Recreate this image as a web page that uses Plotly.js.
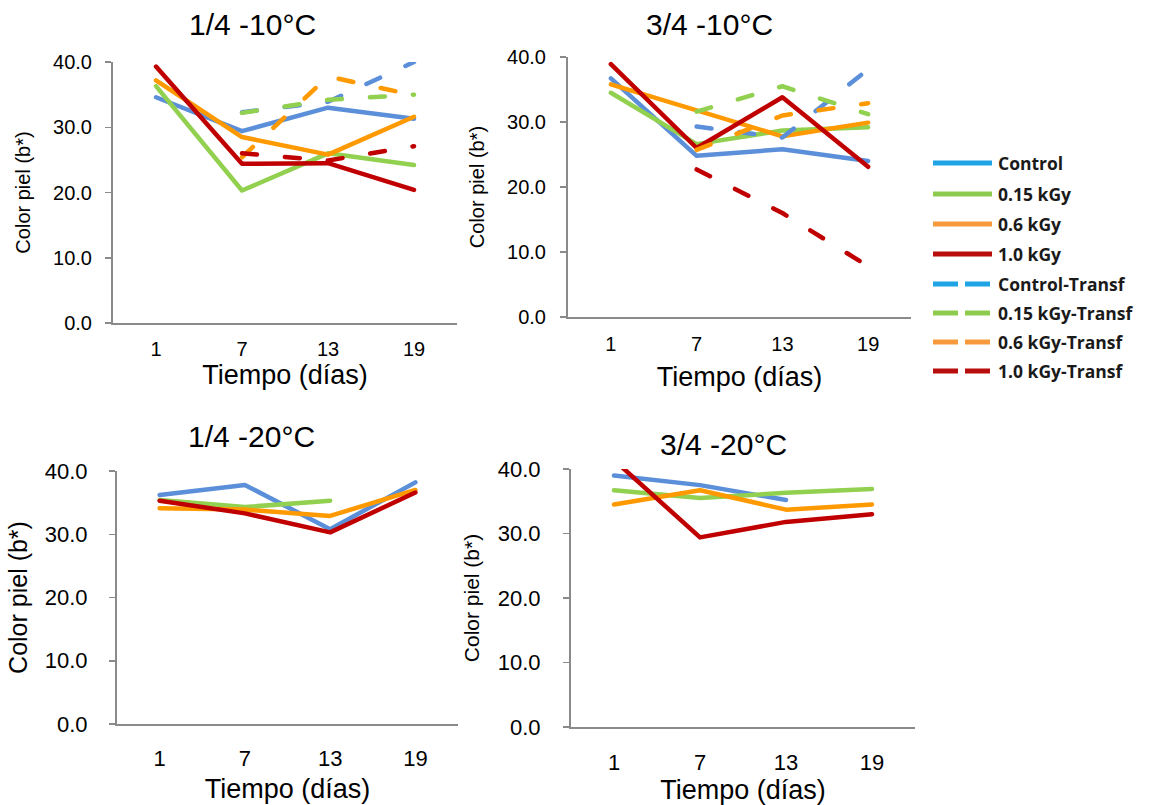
<!DOCTYPE html>
<html><head><meta charset="utf-8">
<script src="https://cdn.plot.ly/plotly-3.0.1.min.js"></script>
<style>
html,body{margin:0;padding:0;background:#fff}
#chart{width:1174px;height:805px}
#chart path.js-line{stroke-linecap:round;stroke-linejoin:round}
</style>
</head><body><div id="chart"></div>
<script>
// ---------- DATA ----------
const days = ["1", "7", "13", "19"];
const seriesNames = ["Control", "0.15 kGy", "0.6 kGy", "1.0 kGy",
  "Control-Transf", "0.15 kGy-Transf", "0.6 kGy-Transf", "1.0 kGy-Transf"];
const panelTitles = ["1/4 -10°C", "3/4 -10°C", "1/4 -20°C", "3/4 -20°C"];
const xTitle = "Tiempo (días)";
const yTitle = "Color piel (b*)";
const yTickVals = [0, 10, 20, 30, 40];

// 1/4 -10°C
const p1Control  = [34.6, 29.4, 33.0, 31.3];
const p1K015     = [36.3, 20.3, 26.0, 24.2];
const p1K06      = [37.2, 28.5, 25.8, 31.6];
const p1K10      = [39.3, 24.4, 24.5, 20.4];
const p1ControlT = [null, 32.3, 33.9, 40.0];
const p1K015T    = [null, 32.2, 34.2, 35.0];
const p1K06T     = [null, 25.4, 37.8, 34.9];
const p1K10T     = [null, 26.0, 24.9, 27.1];

// 3/4 -10°C
const p2Control  = [36.7, 24.8, 25.8, 24.0];
const p2K015     = [34.5, 26.6, 28.7, 29.2];
const p2K06      = [35.8, 31.8, 27.8, 29.9];
const p2K10      = [38.9, 26.0, 33.8, 23.1];
const p2ControlT = [null, 29.3, 27.6, 38.1];
const p2K015T    = [null, 31.6, 35.5, 31.2];
const p2K06T     = [null, 25.7, 31.0, 32.9];
const p2K10T     = [null, 22.7, 16.0, 7.8];

// 1/4 -20°C
const p3Control = [36.2, 37.8, 30.8, 38.2];
const p3K015    = [35.4, 34.3, 35.3, null];
const p3K06     = [34.1, 33.9, 32.9, 37.0];
const p3K10     = [35.3, 33.3, 30.3, 36.6];

// 3/4 -20°C
const p4Control = [39.0, 37.5, 35.2, null];
const p4K015    = [36.7, 35.5, 36.3, 36.9];
const p4K06     = [34.5, 36.7, 33.7, 34.5];
const p4K10     = [41.4, 29.4, 31.8, 33.0];

// ---------- STYLE ----------
const W = 1174, H = 805;
const lineColors = ["#5B8FD9", "#92D050", "#FF9900", "#C00000"];
const legendColors = ["#1EA3E4", "#8DCB4E", "#F79A3E", "#B80D0D"];
const dashPattern = "15px,28px";
const FONT = "Liberation Sans, Arial, sans-serif";

const panels = [
  { series: [p1Control, p1K015, p1K06, p1K10, p1ControlT, p1K015T, p1K06T, p1K10T],
    px: [113, 457], py: [62, 323], tick: 20, ytitle: 20, xtitle: 27, ystand: 9, xstand: 7, ytstand: 17, xtstand: 4,
    titleC: [252, 25] },
  { series: [p2Control, p2K015, p2K06, p2K10, p2ControlT, p2K015T, p2K06T, p2K10T],
    px: [568, 911], py: [57, 317], tick: 20, ytitle: 20, xtitle: 27, ystand: 10, xstand: 8, ytstand: 17, xtstand: 13,
    titleC: [709, 25] },
  { series: [p3Control, p3K015, p3K06, p3K10],
    px: [117, 458], py: [471, 724], tick: 22, ytitle: 25, xtitle: 27, ystand: 17, xstand: 14, ytstand: 10, xtstand: 9,
    titleC: [251, 437] },
  { series: [p4Control, p4K015, p4K06, p4K10],
    px: [571, 915], py: [469, 727], tick: 22, ytitle: 21, xtitle: 27, ystand: 18, xstand: 15, ytstand: 12, xtstand: 8,
    titleC: [723, 444] }
];

const traces = [];
const layout = {
  width: W, height: H,
  margin: { l: 0, r: 0, t: 0, b: 0 },
  paper_bgcolor: "#ffffff", plot_bgcolor: "#ffffff",
  showlegend: false,
  font: { family: FONT, color: "#000000" },
  annotations: [], shapes: []
};

panels.forEach((p, i) => {
  const n = i === 0 ? "" : String(i + 1);
  p.series.forEach((vals, s) => {
    traces.push({
      type: "scatter", mode: "lines",
      x: days, y: vals,
      name: seriesNames[s],
      xaxis: "x" + n, yaxis: "y" + n,
      line: { color: lineColors[s % 4], width: 4.5, dash: s >= 4 ? dashPattern : "solid" },
      connectgaps: false,
      hoverinfo: "x+y+name"
    });
  });
  layout["xaxis" + n] = {
    type: "category", range: [-0.5, 3.5], anchor: "y" + n,
    domain: [p.px[0] / W, p.px[1] / W],
    showline: true, linecolor: "#8A8A8A", linewidth: 2,
    showgrid: false, zeroline: false, ticks: "",
    ticklabelstandoff: p.xstand,
    tickfont: { family: FONT, size: p.tick, color: "#000" },
    title: { text: xTitle, font: { family: FONT, size: p.xtitle, color: "#000" }, standoff: p.xtstand },
    fixedrange: true
  };
  layout["yaxis" + n] = {
    range: [0, 40], anchor: "x" + n,
    domain: [1 - p.py[1] / H, 1 - p.py[0] / H],
    tickvals: yTickVals, tickformat: ".1f",
    showline: true, linecolor: "#8A8A8A", linewidth: 2,
    ticks: "outside", ticklen: 6, tickwidth: 1.5, tickcolor: "#8A8A8A",
    ticklabelstandoff: p.ystand,
    showgrid: false, zeroline: false,
    tickfont: { family: FONT, size: p.tick, color: "#000" },
    title: { text: yTitle, font: { family: FONT, size: p.ytitle, color: "#000" }, standoff: p.ytstand },
    fixedrange: true
  };
  layout.annotations.push({
    text: panelTitles[i], xref: "paper", yref: "paper",
    x: p.titleC[0] / W, y: 1 - p.titleC[1] / H,
    xanchor: "center", yanchor: "middle", showarrow: false,
    font: { family: FONT, size: 30, color: "#000" }
  });
});

// ---------- custom legend ----------
const legY = [163, 194, 224, 254, 284, 313, 342, 371];
seriesNames.forEach((name, s) => {
  const y = 1 - legY[s] / H;
  layout.shapes.push({
    type: "line", xref: "paper", yref: "paper",
    x0: 933 / W, x1: 992 / W, y0: y, y1: y,
    line: { color: legendColors[s % 4], width: 5, dash: s >= 4 ? "25px,7px" : "solid" }
  });
  layout.annotations.push({
    text: name, xref: "paper", yref: "paper",
    x: 996 / W, y: y, xanchor: "left", yanchor: "middle", showarrow: false,
    font: { family: "Open Sans, sans-serif", size: 17.5, color: "#1a1a1a", weight: "bold" }
  });
});

Plotly.newPlot("chart", traces, layout, { displayModeBar: false, staticPlot: true });
</script>
</body></html>
